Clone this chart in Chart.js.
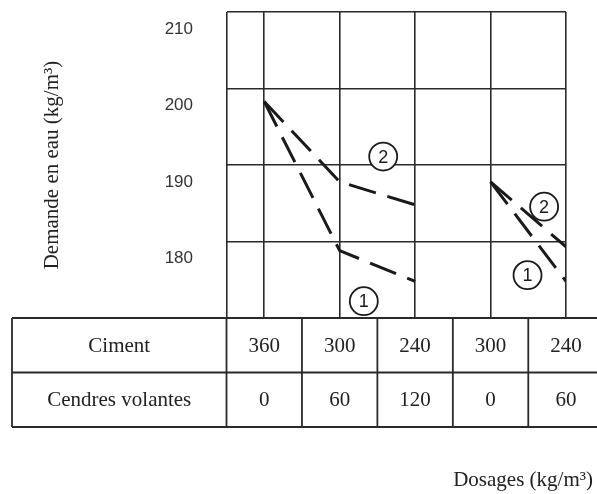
<!DOCTYPE html>
<html>
<head>
<meta charset="utf-8">
<script src="https://cdn.jsdelivr.net/npm/chart.js@4"></script>
<style>
  html, body { margin: 0; padding: 0; background: #fff; }
  #wrap { width: 597px; height: 494px; position: relative; }
</style>
</head>
<body>
<div id="wrap"><canvas id="c" width="597" height="494"></canvas></div>
<script>
// ---- data ----
const ciment = [360, 300, 240, 300, 240];
const cendres = [0, 60, 120, 0, 60];
const courbe1 = [200.5, 181, 177, 190, 177];
const courbe2 = [200.5, 190, 187, 190, 181.5];
const yTicks = [210, 200, 190, 180];
const rowLabels = ['Ciment', 'Cendres volantes'];
const curveTags = ['1', '2', '1', '2'];
const tagX = [1.32, 1.577, 3.49, 3.71];
const tagY = [174.4, 193.3, 177.8, 186.75];
const yTitle = 'Demande en eau (kg/m³)';
const xTitle = 'Dosages (kg/m³)';

const Y_MIN = 172.2, Y_MAX = 212.2, GRID_SHIFT = 2.2;
const gridTicks = [Y_MIN].concat(yTicks.slice().reverse().map(v => v + GRID_SHIFT));

const INK = '#1a1a1a';
const GRID = '#2a2a2a';

const tablePlugin = {
  id: 'tablePlugin',
  afterDraw(chart) {
    const ctx = chart.ctx;
    const xs = chart.scales.x;
    const ys = chart.scales.y;
    const top = chart.chartArea.bottom;
    const rowH = 54.5;
    const leftEdge = 12;
    const rightEdge = 597;
    ctx.save();
    ctx.strokeStyle = '#2a2a2a';
    ctx.lineWidth = 1.8;
    for (let r = 0; r <= 2; r++) {
      const y = top + r * rowH;
      ctx.beginPath(); ctx.moveTo(leftEdge, y); ctx.lineTo(rightEdge, y); ctx.stroke();
    }
    const bounds = [leftEdge];
    for (let i = 0; i < ciment.length; i++) bounds.push(xs.getPixelForValue(i - 0.5));
    bounds.forEach(x => {
      ctx.beginPath(); ctx.moveTo(x, top); ctx.lineTo(x, top + 2 * rowH); ctx.stroke();
    });
    ctx.fillStyle = '#222';
    ctx.font = '21px "Liberation Serif", "Times New Roman", serif';
    ctx.textAlign = 'center';
    ctx.textBaseline = 'middle';
    const labelCx = (leftEdge + xs.getPixelForValue(-0.5)) / 2;
    ctx.fillText(rowLabels[0], labelCx, top + rowH / 2 + 1);
    ctx.fillText(rowLabels[1], labelCx, top + rowH * 1.5 + 1);
    for (let i = 0; i < ciment.length; i++) {
      const cx = xs.getPixelForValue(i);
      ctx.fillText(String(ciment[i]), cx, top + rowH / 2 + 1);
      ctx.fillText(String(cendres[i]), cx, top + rowH * 1.5 + 1);
    }
    ctx.textAlign = 'right';
    ctx.fillText(xTitle, 593, 480);
    ctx.font = '18px "Liberation Sans", Arial, sans-serif';
    ctx.textAlign = 'center';
    ctx.lineWidth = 1.8;
    ctx.strokeStyle = INK;
    for (let k = 0; k < curveTags.length; k++) {
      const px = xs.getPixelForValue(tagX[k]);
      const py = ys.getPixelForValue(tagY[k]);
      ctx.fillStyle = '#fff';
      ctx.beginPath(); ctx.arc(px, py, 14, 0, Math.PI * 2); ctx.fill(); ctx.stroke();
      ctx.fillStyle = INK;
      ctx.fillText(curveTags[k], px, py + 1);
    }
    ctx.restore();
  }
};

const gapSegment = {
  borderColor: c => (c.p0DataIndex === 2 ? 'rgba(0,0,0,0)' : INK)
};

function noPad(s) { s.paddingTop = 0; s.paddingBottom = 0; s.paddingLeft = 0; s.paddingRight = 0; }

new Chart(document.getElementById('c'), {
  type: 'line',
  data: {
    datasets: [
      {
        label: '1',
        data: courbe1.map((v, i) => ({ x: i, y: v })),
        borderColor: INK, borderWidth: 3, borderDash: [28, 12],
        pointRadius: 0, fill: false, tension: 0, segment: gapSegment
      },
      {
        label: '2',
        data: courbe2.map((v, i) => ({ x: i, y: v })),
        borderColor: INK, borderWidth: 3, borderDash: [28, 12],
        pointRadius: 0, fill: false, tension: 0, segment: gapSegment
      }
    ]
  },
  options: {
    responsive: false,
    animation: false,
    events: [],
    layout: { padding: { left: 0, top: 12, right: 31, bottom: 176 } },
    plugins: { legend: { display: false }, tooltip: { enabled: false }, title: { display: false } },
    scales: {
      x: {
        type: 'linear', min: -0.5, max: ciment.length - 1,
        afterBuildTicks: s => { s.ticks = [-0.5].concat(ciment.map((_, i) => i)).map(v => ({ value: v })); },
        afterFit: s => { s.height = 0; noPad(s); },
        ticks: { display: false },
        grid: { color: GRID, lineWidth: 1.6, drawTicks: false },
        border: { display: false }
      },
      y: {
        type: 'linear', position: 'left', min: Y_MIN, max: Y_MAX,
        afterBuildTicks: s => { s.ticks = yTicks.map(v => ({ value: v })); },
        afterFit: s => { s.width = 226.5; noPad(s); },
        ticks: {
          color: '#333', padding: 33.5,
          font: { family: '"Liberation Sans", Arial, sans-serif', size: 17 }
        },
        grid: { display: false, drawTicks: false },
        border: { display: false },
        title: {
          display: true, text: yTitle, color: '#222',
          font: { family: '"Liberation Serif", "Times New Roman", serif', size: 21 },
          padding: { top: 40, bottom: 0 }
        }
      },
      yg: {
        type: 'linear', position: 'left', min: Y_MIN, max: Y_MAX,
        afterBuildTicks: s => { s.ticks = gridTicks.map(v => ({ value: v })); },
        afterFit: s => { s.width = 0; noPad(s); },
        ticks: { display: false },
        grid: { color: GRID, lineWidth: 1.6, drawTicks: false },
        border: { display: false }
      }
    }
  },
  plugins: [tablePlugin]
});
</script>
</body>
</html>
